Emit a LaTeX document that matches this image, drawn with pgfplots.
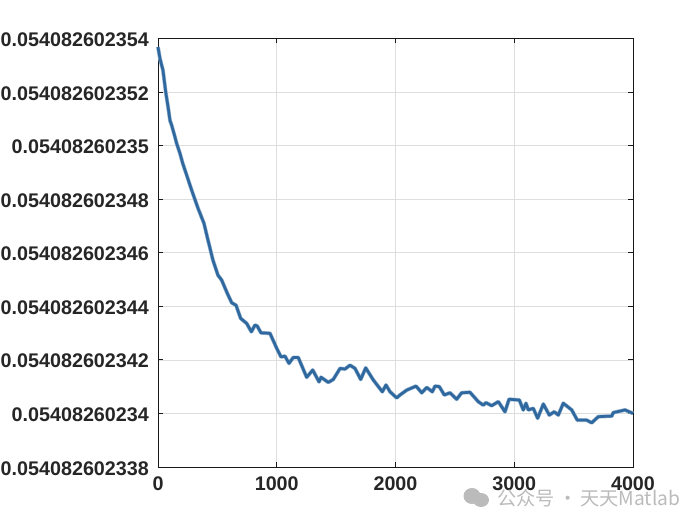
\documentclass[border=0pt]{standalone}
\usepackage{pgfplots}
\usepackage{pgfplotstable}
\usepackage{fontspec}
\setmainfont{Liberation Sans}
\newfontfamily\cjk{Noto Sans CJK SC}
\pgfplotsset{compat=1.18}
% y is in units of 1e-12 above 0.054082602, i.e. 354 = 0.054082602354
\pgfplotstableread{
x y
0 353.68
17 353.24
42 352.81
65 352.00
87 351.38
101 350.94
115 350.76
143 350.32
157 350.08
185 349.71
208 349.34
242 348.89
284 348.33
337 347.66
387 347.10
421 346.47
463 345.72
505 345.16
536 344.98
584 344.48
621 344.13
657 344.04
696 343.55
747 343.36
786 343.05
817 343.30
836 343.26
867 343.01
943 342.99
1000 342.43
1036 342.11
1069 342.14
1103 341.87
1139 342.09
1181 342.09
1252 341.35
1303 341.62
1356 341.18
1373 341.35
1434 341.16
1476 341.27
1533 341.68
1575 341.66
1617 341.80
1659 341.68
1707 341.27
1749 341.70
1813 341.25
1889 340.81
1920 341.06
1954 340.81
2010 340.58
2038 340.69
2094 340.87
2173 341.02
2221 340.77
2263 340.97
2310 340.81
2333 341.02
2369 341.00
2411 340.69
2459 340.77
2515 340.53
2557 340.77
2627 340.79
2697 340.44
2739 340.31
2762 340.40
2810 340.29
2866 340.44
2922 340.06
2956 340.53
3043 340.50
3076 340.13
3099 340.38
3118 340.13
3160 340.19
3197 339.82
3245 340.35
3295 339.94
3337 340.06
3371 339.94
3413 340.38
3484 340.13
3531 339.75
3610 339.75
3652 339.65
3708 339.88
3821 339.90
3834 340.03
3933 340.13
4000 340.00
}\datatable
\definecolor{linec}{HTML}{2F689F}
\definecolor{wm}{HTML}{BBBBBB}
\begin{document}
\begin{tikzpicture}[x=0.75pt,y=0.75pt]
\useasboundingbox (-158,-58) rectangle (542,467);
\begin{axis}[
  at={(0pt,0pt)},anchor=south west,
  width=356.25pt,height=321.4pt,scale only axis,
  xmin=0,xmax=4000,ymin=338,ymax=354,
  xtick={0,1000,2000,3000,4000},
  xticklabels={0,1000,2000,3000,4000},
  ytick={338,340,342,344,346,348,350,352,354},
  yticklabels={0.054082602338,0.05408260234,0.054082602342,0.054082602344,0.054082602346,0.054082602348,0.05408260235,0.054082602352,0.054082602354},
  tick label style={font=\fontsize{14.8}{16}\selectfont\bfseries,text=black!85},
  xticklabel style={yshift=-4pt},
  yticklabel style={xshift=-3.3pt,yshift=-1pt},
  tick align=inside,
  xtick pos=both,ytick pos=both,
  major tick length=3.6pt,
  grid=major,
  major grid style={black!13,line width=0.5pt},
  axis line style={black!90,line width=0.6pt},
  tick style={black!90,line width=0.6pt},
  clip=false,
]
\addplot[linec!50,line width=2.9pt,line join=round] table[x=x,y=y] {\datatable};
\addplot[linec,line width=2pt,line join=round] table[x=x,y=y] {\datatable};
\end{axis}
% watermark
\fill[wm] (314,-29) ellipse (8.5 and 8);
\fill[wm] (323,-33) ellipse (8 and 7);
\node[anchor=west,text=wm,inner sep=0pt,font=\fontsize{14.4}{16}\cjk] at (339,-31.5) {公众号\,·\,天天Matlab};
\end{tikzpicture}
\end{document}
